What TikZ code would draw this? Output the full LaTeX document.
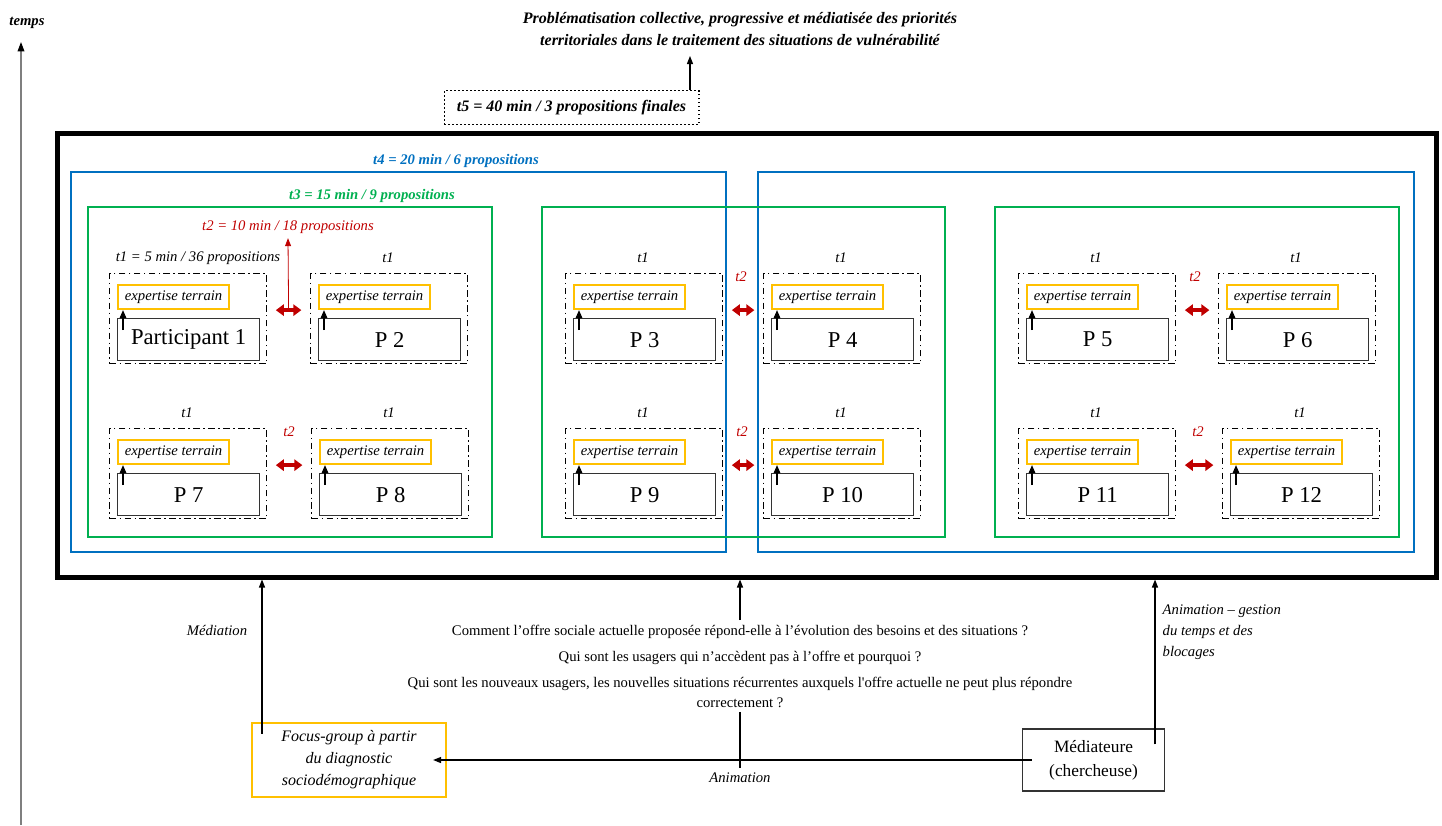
\documentclass[tikz,border=0pt]{standalone}
\usepackage{fontspec}
\setmainfont{Liberation Serif}
\usepackage{tikz}
\usetikzlibrary{arrows.meta,calc}
\definecolor{PbBlue}{HTML}{0070C0}
\definecolor{PbGreen}{HTML}{00B050}
\definecolor{PbOrange}{HTML}{FFC000}
\definecolor{PbRed}{HTML}{C00000}
\definecolor{PbGrey}{HTML}{7F7F7F}
\tikzset{
  grpbox/.style={draw, line width=0.9pt, dash pattern=on 5pt off 2.5pt on 1.2pt off 2.5pt,
    minimum width=117.75pt, minimum height=67.5pt, inner sep=0pt, anchor=north west},
  expbox/.style={draw=PbOrange, line width=1.6pt, minimum width=83.25pt, minimum height=18pt,
    inner sep=0pt, anchor=north west, font=\fontsize{11}{13}\selectfont\itshape},
  partbox/.style={draw=black!80, line width=0.9pt, minimum width=106.5pt, minimum height=31.5pt,
    inner sep=0pt, anchor=north west, font=\fontsize{17}{20}\selectfont},
  tlabel/.style={font=\fontsize{11}{13}\selectfont\itshape},
  blocklabel/.style={font=\fontsize{11}{13}\selectfont\bfseries\itshape},
  uparr/.style={-{Triangle[length=6pt,width=5pt]}, line width=0.8pt},
  dblarr/.style={{Triangle[length=6pt,width=8.5pt]}-{Triangle[length=6pt,width=8.5pt]},
    line width=3pt, PbRed, shorten <=6.5pt, shorten >=6.5pt},
  conn/.style={-{Triangle[length=6pt,width=4.5pt]}, line width=0.9pt}
}

\begin{document}
\begin{tikzpicture}[x=0.75pt,y=-0.75pt]
\path[use as bounding box] (0,0) rectangle (1442,825);
% axe du temps
\node[blocklabel] (temps) at (27,23) {temps};
\coordinate (tbas) at (21,825);
\coordinate (thaut) at (21,42);
\draw[PbGrey, line width=0.9pt, -{Triangle[length=7pt,width=5pt,color=black]}] (tbas) -- (thaut);
% titre et t5
\node[align=center, font=\fontsize{12}{16.5}\selectfont\bfseries\itshape] (titre) at (740,29)
  {Problématisation collective, progressive et médiatisée des priorités\\territoriales dans le traitement des situations de vulnérabilité};
\node[draw, dotted, line width=1pt, minimum width=191pt, minimum height=25.5pt, inner sep=0pt,
  font=\fontsize{12}{14}\selectfont\bfseries\itshape] (t5) at (571.5,107.5) {t5 = 40 min / 3 propositions finales};
\coordinate (tfl) at (690,56);
\draw[conn] (t5.north -| tfl) -- (tfl);
% cadre general
\node[draw, line width=3.75pt, minimum width=1034.25pt, minimum height=333pt, inner sep=0pt,
  anchor=north west] (cadre) at (54.5,130.5) {};
% blocs t4 et t3
\draw[PbBlue, line width=1.5pt] (71,172) rectangle (726,552);
\draw[PbBlue, line width=1.5pt] (758,172) rectangle (1414,552);
\node[blocklabel, PbBlue] (t4) at (456,161) {t4 = 20 min / 6 propositions};
\draw[PbGreen, line width=1.1pt] (88,207) rectangle (492,537);
\draw[PbGreen, line width=1.1pt] (542,207) rectangle (945,537);
\draw[PbGreen, line width=1.1pt] (995,207) rectangle (1399,537);
\node[blocklabel, PbGreen] (t3) at (372,196) {t3 = 15 min / 9 propositions};
% participants, ligne du haut
\node[grpbox] (g1) at (109,273) {};
\node[expbox] (e1) at (117,284) {expertise terrain};
\node[partbox] (p1) at (117,318) {Participant 1};
\draw[uparr] ([shift={(4.5pt,-9pt)}]p1.north west) -- ([xshift=4.5pt]e1.south west);
\node[tlabel] (l1) at (198,258) {t1 = 5 min / 36 propositions};
\node[grpbox] (g2) at (310,273) {};
\node[expbox] (e2) at (318,284) {expertise terrain};
\node[partbox] (p2) at (318,318) {P 2};
\draw[uparr] ([shift={(4.5pt,-9pt)}]p2.north west) -- ([xshift=4.5pt]e2.south west);
\node[tlabel] (l2) at (388,258) {t1};
\node[grpbox] (g3) at (565,273) {};
\node[expbox] (e3) at (573,284) {expertise terrain};
\node[partbox] (p3) at (573,318) {P 3};
\draw[uparr] ([shift={(4.5pt,-9pt)}]p3.north west) -- ([xshift=4.5pt]e3.south west);
\node[tlabel] (l3) at (643,258) {t1};
\node[grpbox] (g4) at (763,273) {};
\node[expbox] (e4) at (771,284) {expertise terrain};
\node[partbox] (p4) at (771,318) {P 4};
\draw[uparr] ([shift={(4.5pt,-9pt)}]p4.north west) -- ([xshift=4.5pt]e4.south west);
\node[tlabel] (l4) at (841,258) {t1};
\node[grpbox] (g5) at (1018,273) {};
\node[expbox] (e5) at (1026,284) {expertise terrain};
\node[partbox] (p5) at (1026,318) {P 5};
\draw[uparr] ([shift={(4.5pt,-9pt)}]p5.north west) -- ([xshift=4.5pt]e5.south west);
\node[tlabel] (l5) at (1096,258) {t1};
\node[grpbox] (g6) at (1218,273) {};
\node[expbox] (e6) at (1226,284) {expertise terrain};
\node[partbox] (p6) at (1226,318) {P 6};
\draw[uparr] ([shift={(4.5pt,-9pt)}]p6.north west) -- ([xshift=4.5pt]e6.south west);
\node[tlabel] (l6) at (1296,258) {t1};
% participants, ligne du bas
\node[grpbox] (g7) at (109,428) {};
\node[expbox] (e7) at (117,439) {expertise terrain};
\node[partbox] (p7) at (117,473) {P 7};
\draw[uparr] ([shift={(4.5pt,-9pt)}]p7.north west) -- ([xshift=4.5pt]e7.south west);
\node[tlabel] (l7) at (187,413) {t1};
\node[grpbox] (g8) at (311,428) {};
\node[expbox] (e8) at (319,439) {expertise terrain};
\node[partbox] (p8) at (319,473) {P 8};
\draw[uparr] ([shift={(4.5pt,-9pt)}]p8.north west) -- ([xshift=4.5pt]e8.south west);
\node[tlabel] (l8) at (389,413) {t1};
\node[grpbox] (g9) at (565,428) {};
\node[expbox] (e9) at (573,439) {expertise terrain};
\node[partbox] (p9) at (573,473) {P 9};
\draw[uparr] ([shift={(4.5pt,-9pt)}]p9.north west) -- ([xshift=4.5pt]e9.south west);
\node[tlabel] (l9) at (643,413) {t1};
\node[grpbox] (g10) at (763,428) {};
\node[expbox] (e10) at (771,439) {expertise terrain};
\node[partbox] (p10) at (771,473) {P 10};
\draw[uparr] ([shift={(4.5pt,-9pt)}]p10.north west) -- ([xshift=4.5pt]e10.south west);
\node[tlabel] (l10) at (841,413) {t1};
\node[grpbox] (g11) at (1018,428) {};
\node[expbox] (e11) at (1026,439) {expertise terrain};
\node[partbox] (p11) at (1026,473) {P 11};
\draw[uparr] ([shift={(4.5pt,-9pt)}]p11.north west) -- ([xshift=4.5pt]e11.south west);
\node[tlabel] (l11) at (1096,413) {t1};
\node[grpbox] (g12) at (1222,428) {};
\node[expbox] (e12) at (1230,439) {expertise terrain};
\node[partbox] (p12) at (1230,473) {P 12};
\draw[uparr] ([shift={(4.5pt,-9pt)}]p12.north west) -- ([xshift=4.5pt]e12.south west);
\node[tlabel] (l12) at (1300,413) {t1};
% echanges t2
\draw[dblarr] (g1.east |- e1.south) -- (g2.west |- e1.south);
\draw[dblarr] (g3.east |- e3.south) -- (g4.west |- e3.south);
\draw[dblarr] (g5.east |- e5.south) -- (g6.west |- e5.south);
\draw[dblarr] (g7.east |- e7.south) -- (g8.west |- e7.south);
\draw[dblarr] (g9.east |- e9.south) -- (g10.west |- e9.south);
\draw[dblarr] (g11.east |- e11.south) -- (g12.west |- e11.south);
\node[tlabel, PbRed] (t2) at (288,227) {t2 = 10 min / 18 propositions};
\coordinate (m12) at ($(g1.east |- e1.south)!0.5!(g2.west |- e1.south)$);
\draw[PbRed, line width=0.6pt, -{Triangle[length=6pt,width=4.5pt]}] (m12) -- (t2.south);
\node[tlabel, PbRed] (t2b) at (741,277) {t2};
\node[tlabel, PbRed] (t2c) at (1195,277) {t2};
\node[tlabel, PbRed] (t2d) at (289,432) {t2};
\node[tlabel, PbRed] (t2e) at (742,432) {t2};
\node[tlabel, PbRed] (t2f) at (1198,432) {t2};
% partie basse
\node[draw=PbOrange, line width=1.6pt, minimum width=145.5pt, minimum height=55.5pt, align=center,
  font=\fontsize{12}{16.5}\selectfont\itshape] (fg) at (349,760) {Focus-group à partir\\du diagnostic\\sociodémographique};
\node[draw=black!80, line width=0.9pt, minimum width=107pt, minimum height=46.5pt, align=center,
  font=\fontsize{13}{18}\selectfont] (med) at (1093.5,760) {Médiateure\\(chercheuse)};
\node[align=center, font=\fontsize{11}{15}\selectfont] (quest) at (740,666)
  {Comment l’offre sociale actuelle proposée répond-elle à l’évolution des besoins et des situations ?\\[5pt]
   Qui sont les usagers qui n’accèdent pas à l’offre et pourquoi ?\\[4pt]
   Qui sont les nouveaux usagers, les nouvelles situations récurrentes auxquels l\textquotesingle offre actuelle ne peut plus répondre\\correctement ?};
\draw[conn] (quest.north) -- (quest.north |- cadre.south);
\node[tlabel] (anim) at (740,778) {Animation};
\draw[line width=0.9pt] (quest.south) -- (anim.north);
\draw[conn] ([xshift=7.5pt]med.west) -- ([xshift=-10.5pt]fg.east);
\coordinate (mx) at (262,0);
\draw[conn] ([yshift=-9pt]fg.north -| mx) -- (cadre.south -| mx);
\node[tlabel] (medi) at (217,630) {Médiation};
\coordinate (ax) at (1155,0);
\draw[conn] ([yshift=-12pt]med.north -| ax) -- (cadre.south -| ax);
\node[align=left, anchor=north west, font=\fontsize{11}{15.75}\selectfont\itshape] (gest) at (1158,600)
  {Animation – gestion\\du temps et des\\blocages};
\end{tikzpicture}
\end{document}
